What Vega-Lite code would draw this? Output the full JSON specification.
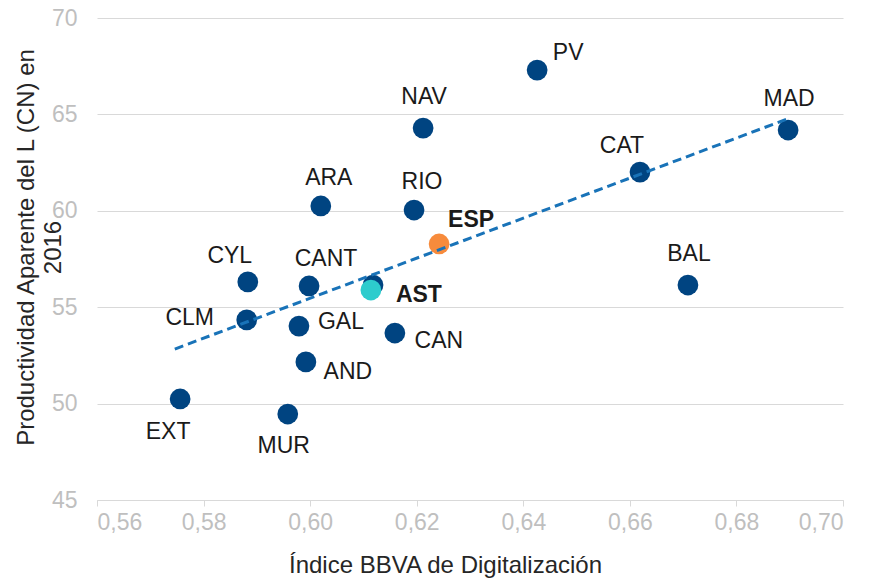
{
  "$schema": "https://vega.github.io/schema/vega-lite/v6.json",
  "width": 746,
  "height": 482,
  "autosize": "none",
  "padding": {"left": 97, "top": 18, "right": 27, "bottom": 78},
  "background": "white",
  "config": {
    "font": "Liberation Sans",
    "view": {"stroke": null}
  },
  "datasets": {
    "pts": [
      {"region": "PV", "x": 0.6426, "y": 67.3, "group": "CCAA"},
      {"region": "NAV", "x": 0.6212, "y": 64.29, "group": "CCAA"},
      {"region": "MAD", "x": 0.6897, "y": 64.19, "group": "CCAA"},
      {"region": "CAT", "x": 0.6619, "y": 62.01, "group": "CCAA"},
      {"region": "ARA", "x": 0.602, "y": 60.25, "group": "CCAA"},
      {"region": "RIO", "x": 0.6195, "y": 60.04, "group": "CCAA"},
      {"region": "CYL", "x": 0.5883, "y": 56.31, "group": "CCAA"},
      {"region": "CANT", "x": 0.5998, "y": 56.1, "group": "CCAA"},
      {"region": "AST_", "x": 0.6118, "y": 56.15, "group": "CCAA"},
      {"region": "BAL", "x": 0.6709, "y": 56.15, "group": "CCAA"},
      {"region": "CLM", "x": 0.5881, "y": 54.34, "group": "CCAA"},
      {"region": "GAL", "x": 0.5979, "y": 54.02, "group": "CCAA"},
      {"region": "CAN", "x": 0.6159, "y": 53.66, "group": "CCAA"},
      {"region": "AND", "x": 0.5992, "y": 52.16, "group": "CCAA"},
      {"region": "EXT", "x": 0.5756, "y": 50.24, "group": "CCAA"},
      {"region": "MUR", "x": 0.5958, "y": 49.46, "group": "CCAA"},
      {"region": "ESP", "x": 0.6242, "y": 58.28, "group": "ESP"},
      {"region": "AST", "x": 0.6114, "y": 55.89, "group": "AST"}
    ],
    "trend": [
      {"x": 0.5746, "y": 52.83},
      {"x": 0.69, "y": 64.81}
    ]
  },
  "encoding": {
    "x": {
      "field": "x", "type": "quantitative",
      "scale": {"domain": [0.56, 0.70], "nice": false, "zero": false},
      "axis": {
        "title": "Índice BBVA de Digitalización",
        "values": [0.56, 0.58, 0.60, 0.62, 0.64, 0.66, 0.68, 0.70],
        "labelExpr": "replace(format(datum.value, '.2f'), '.', ',')",
        "grid": false,
        "domain": true, "domainColor": "#d9d9d9", "domainWidth": 1,
        "ticks": true, "tickColor": "#d9d9d9", "tickSize": 6,
        "labelColor": "#bfbfbf", "labelFontSize": 23, "labelPadding": 5,
        "titleColor": "#262626", "titleFontSize": 24, "titleFontWeight": "normal",
        "titleX": 348, "titleY": 53
      }
    },
    "y": {
      "field": "y", "type": "quantitative",
      "scale": {"domain": [45, 70], "nice": false, "zero": false},
      "axis": {
        "title": ["Productividad Aparente del L (CN) en", "2016"],
        "values": [45, 50, 55, 60, 65, 70],
        "grid": true, "gridColor": "#d9d9d9", "gridWidth": 1,
        "domain": false, "ticks": false,
        "labelColor": "#bfbfbf", "labelFontSize": 23, "labelPadding": 20,
        "titleColor": "#262626", "titleFontSize": 24, "titleFontWeight": "normal",
        "titleLineHeight": 27, "titleX": -59, "titleY": 229
      }
    }
  },
  "layer": [
    {
      "data": {"name": "pts"},
      "mark": {"type": "circle", "size": 430, "opacity": 1},
      "encoding": {
        "color": {
          "field": "group", "type": "nominal",
          "scale": {"domain": ["CCAA", "ESP", "AST"], "range": ["#004481", "#F78B3C", "#2DCCCD"]},
          "legend": null
        },
        "order": {"field": "group", "sort": "descending"}
      }
    },
    {
      "data": {"name": "trend"},
      "mark": {"type": "line", "color": "#1973B8", "strokeWidth": 3, "strokeDash": [9, 5]},
      "encoding": {}
    },
    {
      "data": {"name": "pts"},
      "transform": [{"filter": {"field": "region", "oneOf": ["NAV", "MAD", "BAL"]}}],
      "mark": {"type": "text", "fontSize": 23, "color": "#1a1a1a", "dx": 1, "dy": -31},
      "encoding": {"text": {"field": "region"}}
    },
    {
      "data": {"name": "pts"},
      "transform": [{"filter": {"field": "region", "oneOf": ["RIO", "ARA"]}}],
      "mark": {"type": "text", "fontSize": 23, "color": "#1a1a1a", "dx": 8, "dy": -28},
      "encoding": {"text": {"field": "region"}}
    },
    {
      "data": {"name": "pts"},
      "transform": [{"filter": {"field": "region", "oneOf": ["CANT"]}}],
      "mark": {"type": "text", "fontSize": 23, "color": "#1a1a1a", "dx": 17, "dy": -27},
      "encoding": {"text": {"field": "region"}}
    },
    {
      "data": {"name": "pts"},
      "transform": [{"filter": {"field": "region", "oneOf": ["CYL", "CAT"]}}],
      "mark": {"type": "text", "fontSize": 23, "color": "#1a1a1a", "dx": -18, "dy": -26},
      "encoding": {"text": {"field": "region"}}
    },
    {
      "data": {"name": "pts"},
      "transform": [{"filter": {"field": "region", "oneOf": ["PV"]}}],
      "mark": {"type": "text", "fontSize": 23, "color": "#1a1a1a", "dx": 31, "dy": -17},
      "encoding": {"text": {"field": "region"}}
    },
    {
      "data": {"name": "pts"},
      "transform": [{"filter": {"field": "region", "oneOf": ["ESP"]}}],
      "mark": {"type": "text", "fontSize": 23, "fontWeight": "bold", "color": "#1a1a1a", "dx": 32, "dy": -24},
      "encoding": {"text": {"field": "region"}}
    },
    {
      "data": {"name": "pts"},
      "transform": [{"filter": {"field": "region", "oneOf": ["AST"]}}],
      "mark": {"type": "text", "fontSize": 23, "fontWeight": "bold", "color": "#1a1a1a", "dx": 48, "dy": 5},
      "encoding": {"text": {"field": "region"}}
    },
    {
      "data": {"name": "pts"},
      "transform": [{"filter": {"field": "region", "oneOf": ["CLM"]}}],
      "mark": {"type": "text", "fontSize": 23, "color": "#1a1a1a", "dx": -57, "dy": -2},
      "encoding": {"text": {"field": "region"}}
    },
    {
      "data": {"name": "pts"},
      "transform": [{"filter": {"field": "region", "oneOf": ["GAL"]}}],
      "mark": {"type": "text", "fontSize": 23, "color": "#1a1a1a", "dx": 42, "dy": -4},
      "encoding": {"text": {"field": "region"}}
    },
    {
      "data": {"name": "pts"},
      "transform": [{"filter": {"field": "region", "oneOf": ["CAN"]}}],
      "mark": {"type": "text", "fontSize": 23, "color": "#1a1a1a", "dx": 44, "dy": 8},
      "encoding": {"text": {"field": "region"}}
    },
    {
      "data": {"name": "pts"},
      "transform": [{"filter": {"field": "region", "oneOf": ["AND"]}}],
      "mark": {"type": "text", "fontSize": 23, "color": "#1a1a1a", "dx": 42, "dy": 10},
      "encoding": {"text": {"field": "region"}}
    },
    {
      "data": {"name": "pts"},
      "transform": [{"filter": {"field": "region", "oneOf": ["EXT"]}}],
      "mark": {"type": "text", "fontSize": 23, "color": "#1a1a1a", "dx": -12, "dy": 33},
      "encoding": {"text": {"field": "region"}}
    },
    {
      "data": {"name": "pts"},
      "transform": [{"filter": {"field": "region", "oneOf": ["MUR"]}}],
      "mark": {"type": "text", "fontSize": 23, "color": "#1a1a1a", "dx": -4, "dy": 32},
      "encoding": {"text": {"field": "region"}}
    }
  ]
}
